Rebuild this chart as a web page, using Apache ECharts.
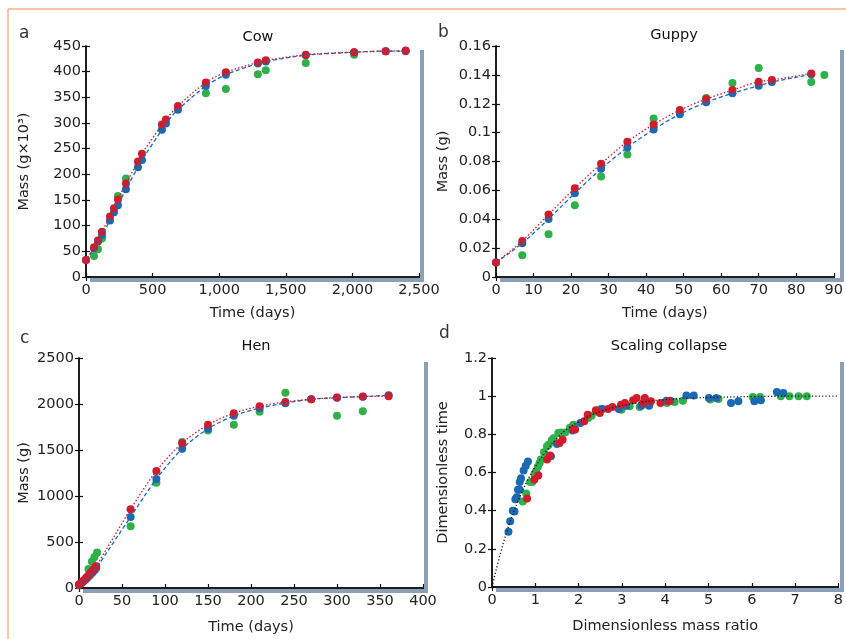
<!DOCTYPE html>
<html><head><meta charset="utf-8">
<script src="https://cdn.jsdelivr.net/npm/echarts@6/dist/echarts.min.js"></script>
<style>html,body{margin:0;padding:0;background:#fff}#c{width:846px;height:639px}</style>
</head><body><div id="c"></div>
<script>
// ---- Cow ----
const cowDays  = [0,60,90,120,180,210,240,300,390,420,570,600,690,900,1050,1290,1350,1650,2013,2250,2400];
const cowRed   = [33,58,71,88,118,134,151,182,225,240,297,307,333,379,399,418,422,433,438,440,441];
const cowBlue  = [33,56,69,82,110,126,140,171,214,228,287,299,326,372,394,416,420,432,438,440,440];
const cowGreenDays = [60,90,120,240,300,900,1050,1290,1350,1650,2013];
const cowGreen = [41,54,75,158,192,358,366,395,403,417,433];
// ---- Guppy ----
const gupDays  = [0,7,14,21,28,35,42,49,56,63,70,73.5,84];
const gupRed   = [0.010,0.025,0.0433,0.0615,0.0784,0.0937,0.1057,0.1156,0.1233,0.1295,0.1353,0.1364,0.141];
const gupBlue  = [0.010,0.0234,0.0402,0.058,0.0749,0.0897,0.1022,0.1128,0.121,0.1272,0.1325,0.135,0.1404];
const gupGreenDays = [7,14,21,28,35,42,56,63,70,84,87.5];
const gupGreen = [0.015,0.0296,0.0497,0.0696,0.0849,0.1098,0.124,0.1343,0.1447,0.135,0.1399];
// ---- Hen ----
const henDays  = [0,2,4,6,8,10,12,14,16,18,20,60,90,120,150,180,210,240,270,300,330,360];
const henRed   = [36,52,70,88,108,128,148,170,192,215,236,856,1272,1575,1774,1900,1976,2023,2052,2070,2081,2085];
const henBlue  = [36,48,62,78,95,113,132,152,172,194,215,773,1185,1514,1731,1872,1955,2009,2052,2068,2080,2096];
const henGreenDays = [0,4,8,11,15,18,21,60,90,120,150,180,210,240,300,330];
const henGreen = [36,62,100,206,289,336,386,672,1145,1586,1713,1774,1915,2121,1872,1922];
// ---- Scaling collapse ----
const colBlueX = [0.38,0.42,0.48,0.52,0.54,0.57,0.60,0.64,0.64,0.67,0.73,0.78,0.83,1.36,1.50,1.86,2.04,2.55,2.93,3.10,3.45,3.63,4.03,4.12,4.49,4.66,5.01,5.18,5.52,5.69,6.06,6.21,6.58,6.73];
const colBlueY = [0.29,0.345,0.40,0.395,0.46,0.47,0.51,0.51,0.55,0.57,0.61,0.636,0.657,0.685,0.75,0.82,0.86,0.933,0.933,0.95,0.95,0.95,0.976,0.976,1.003,1.003,0.99,0.99,0.964,0.973,0.973,0.978,1.022,1.017];
const colGreenX = [0.71,0.79,0.88,0.93,0.98,1.02,1.06,1.10,1.13,1.20,1.27,1.31,1.38,1.42,1.53,1.59,1.69,1.80,1.88,2.22,2.30,2.40,2.51,2.99,3.18,3.41,3.60,4.04,4.22,4.41,5.04,5.23,6.02,6.19,6.67,6.87,7.08,7.27];
const colGreenY = [0.448,0.49,0.55,0.55,0.59,0.607,0.63,0.65,0.668,0.706,0.737,0.746,0.769,0.78,0.807,0.81,0.81,0.834,0.85,0.886,0.898,0.919,0.933,0.929,0.947,0.943,0.955,0.964,0.97,0.976,0.982,0.985,0.996,0.996,0.999,0.999,0.999,0.999];
const colRedX = [0.81,0.98,1.07,1.27,1.34,1.56,1.63,1.88,1.92,2.13,2.21,2.40,2.49,2.68,2.78,2.98,3.07,3.26,3.34,3.49,3.53,3.67,3.89,4.09];
const colRedY = [0.464,0.563,0.584,0.668,0.689,0.755,0.772,0.825,0.825,0.868,0.903,0.926,0.912,0.933,0.943,0.955,0.964,0.978,0.99,0.964,0.99,0.973,0.964,0.975];
const curveX = [0,0.2,0.4,0.6,0.8,1,1.25,1.5,1.75,2,2.5,3,3.5,4,4.5,5,6,7,8];
const curveY = [0,0.18,0.33,0.45,0.55,0.63,0.71,0.78,0.83,0.865,0.92,0.95,0.97,0.982,0.989,0.993,0.998,1.0,1.0];

const titles = ['Cow','Guppy','Hen','Scaling collapse'];
const letters = ['a','b','c','d'];
const xNames = ['Time (days)','Time (days)','Time (days)','Dimensionless mass ratio'];
const yNames = ['Mass (g\u00d710\u00b3)','Mass (g)','Mass (g)','Dimensionless time'];

const RED = '#d01c2c', BLUE = '#1b69b3', GREEN = '#2fb04a';
const FONT = 'DejaVu Sans';
const FS = 14.5;
const grids = [
  {left:86, top:46, width:333, height:231},
  {left:496, top:46, width:343, height:231},
  {left:79, top:358, width:344, height:230},
  {left:492, top:358, width:347, height:229}
];
const xCfg = [
  {min:0,max:2500,interval:500,fmt:v=>v===0?'0':v.toLocaleString('en-US')},
  {min:0,max:90,interval:10,fmt:v=>String(v)},
  {min:0,max:400,interval:50,fmt:v=>String(v)},
  {min:0,max:8,interval:1,fmt:v=>String(v)}
];
const yCfg = [
  {min:0,max:450,interval:50,fmt:v=>String(v)},
  {min:0,max:0.16,interval:0.02,fmt:v=>v===0?'0':String(+v.toFixed(2))},
  {min:0,max:2500,interval:500,fmt:v=>String(v)},
  {min:0,max:1.2,interval:0.2,fmt:v=>v===0?'0':String(+v.toFixed(1))}
];
const yNameGap = [54,45,47,41];
const xNameGap = [29,29,32,32];

const txt = {color:'#222', fontFamily:FONT, fontSize:FS};
const xAxis = [], yAxis = [];
grids.forEach((g,i)=>{
  const lineS = {show:true, lineStyle:{color:'#111', width:1.5}};
  const tickS = {show:true, inside:true, length:4, lineStyle:{color:'#111', width:1.2}};
  xAxis.push({type:'value', gridIndex:i, position:'bottom', z:20, min:xCfg[i].min, max:xCfg[i].max, interval:xCfg[i].interval,
    axisLine:lineS, axisTick:tickS, splitLine:{show:false},
    axisLabel:Object.assign({margin:6, formatter:xCfg[i].fmt, showMaxLabel:true, showMinLabel:true, hideOverlap:false}, txt),
    name:xNames[i], nameLocation:'middle', nameGap:xNameGap[i], nameTextStyle:{color:'#222', fontFamily:FONT, fontSize:FS}});
  xAxis.push({type:'value', gridIndex:i, position:'top', z:20, min:xCfg[i].min, max:xCfg[i].max, interval:xCfg[i].interval,
    axisLine:lineS, axisTick:tickS, splitLine:{show:false}, axisLabel:{show:false}});
  yAxis.push({type:'value', gridIndex:i, position:'left', z:20, min:yCfg[i].min, max:yCfg[i].max, interval:yCfg[i].interval,
    axisLine:lineS, axisTick:tickS, splitLine:{show:false},
    axisLabel:Object.assign({margin:5, formatter:yCfg[i].fmt}, txt),
    name:yNames[i], nameLocation:'middle', nameGap:yNameGap[i], nameTextStyle:{color:'#222', fontFamily:FONT, fontSize:FS}});
  yAxis.push({type:'value', gridIndex:i, position:'right', z:20, min:yCfg[i].min, max:yCfg[i].max, interval:yCfg[i].interval,
    axisLine:lineS, axisTick:tickS, splitLine:{show:false}, axisLabel:{show:false}});
});

function zip(xs, ys){ return xs.map((x,k)=>[x, ys[k]]); }
function scatter(i, data, color){
  return {type:'scatter', xAxisIndex:2*i, yAxisIndex:2*i, data, symbolSize:8,
    itemStyle:{color, opacity:1}, z:30, silent:true};
}
function line(i, data, color, dash, sm){
  return {type:'line', xAxisIndex:2*i, yAxisIndex:2*i, data, showSymbol:false, smooth:sm,
    lineStyle:{color, width:1.3, type:dash}, z:31, silent:true};
}
const DASH = [4,2.5], DOT = [1.5,2];
const series = [
  scatter(0, zip(cowGreenDays, cowGreen), GREEN),
  scatter(0, zip(cowDays, cowBlue), BLUE),
  scatter(0, zip(cowDays, cowRed), RED),
  line(0, zip(cowDays, cowBlue), BLUE, DASH, 0.3),
  line(0, zip(cowDays, cowRed), RED, DOT, 0.3),
  scatter(1, zip(gupGreenDays, gupGreen), GREEN),
  scatter(1, zip(gupDays, gupBlue), BLUE),
  scatter(1, zip(gupDays, gupRed), RED),
  line(1, zip(gupDays, gupBlue), BLUE, DASH, 0.3),
  line(1, zip(gupDays, gupRed), RED, DOT, 0.3),
  scatter(2, zip(henGreenDays, henGreen), GREEN),
  scatter(2, zip(henDays, henBlue), BLUE),
  scatter(2, zip(henDays, henRed), RED),
  line(2, zip(henDays, henBlue), BLUE, DASH, 0.3),
  line(2, zip(henDays, henRed), RED, DOT, 0.3),
  line(3, zip(curveX, curveY), '#111', [1.2,2.2], 0.4),
  scatter(3, zip(colGreenX, colGreenY), GREEN),
  scatter(3, zip(colBlueX, colBlueY), BLUE),
  scatter(3, zip(colRedX, colRedY), RED)
];

const titleCenters = [[253,25],[669,23],[251,334],[664,334]];
const letterPos = [[14,20],[433,19],[15,325],[434,320]];
const title = [];
titles.forEach((t,i)=>{
  title.push({text:t, left:titleCenters[i][0], top:titleCenters[i][1], textAlign:'center',
    textStyle:{color:'#111', fontFamily:FONT, fontSize:FS, fontWeight:'normal'}});
  title.push({text:letters[i], left:letterPos[i][0], top:letterPos[i][1],
    textStyle:{color:'#333', fontFamily:FONT, fontSize:17, fontWeight:'normal'}});
});

const SH = '#8ba0b6';
const graphic = [
  {type:'line', shape:{x1:8, y1:9, x2:846, y2:9}, style:{stroke:'#f5b483', lineWidth:1.5}},
  {type:'line', shape:{x1:8, y1:9, x2:8, y2:639}, style:{stroke:'#f5b483', lineWidth:1.5}}
];
grids.forEach(g=>{
  graphic.push({type:'rect', shape:{x:g.left+g.width+1, y:g.top+4, width:4, height:g.height+1}, style:{fill:SH}, z:50});
  graphic.push({type:'rect', shape:{x:g.left+4, y:g.top+g.height+1, width:g.width+1, height:4}, style:{fill:SH}, z:50});
});

const chart = echarts.init(document.getElementById('c'), null, {renderer:'canvas'});
chart.setOption({
  backgroundColor:'#fff', animation:false,
  title, graphic,
  grid: grids.map(g=>Object.assign({containLabel:false}, g)),
  xAxis, yAxis, series
});
</script></body></html>
